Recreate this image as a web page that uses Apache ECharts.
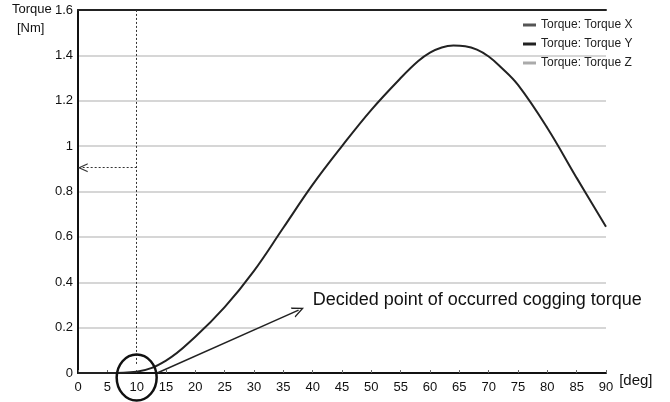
<!DOCTYPE html>
<html>
<head>
<meta charset="utf-8">
<script src="https://cdn.jsdelivr.net/npm/echarts@6/dist/echarts.min.js"></script>
<style>
  html, body { margin: 0; padding: 0; background: #fff; }
  #chart { width: 670px; height: 402px; }
</style>
</head>
<body>
<div id="chart"></div>
<script>
// angle (deg) and torque (Nm)
var angles = [0, 5, 10, 15, 20, 25, 30, 35, 40, 45, 50, 55, 58, 60, 62, 64, 66, 68, 70, 72, 75, 80, 85, 90];
var torqueX = [0, 0, 0.006, 0.055, 0.16, 0.29, 0.45, 0.64, 0.83, 1.0, 1.16, 1.3, 1.375, 1.412, 1.435, 1.443, 1.44, 1.425, 1.395, 1.35, 1.27, 1.08, 0.86, 0.645];
var seriesNames = ['Torque: Torque X', 'Torque: Torque Y', 'Torque: Torque Z'];
var legendColors = ['#555', '#222', '#aaa'];
var yTicks = { min: 0, max: 1.6, step: 0.2 };
var xTicks = { min: 0, max: 90, step: 5 };

// annotation anchors (data coords)
var cogPoint = [10, -0.02];
var arrowFrom = [13.5, 0];
var arrowTo = [37.6, 0.277];
var readFrom = [10, 0.905];
var readTo = [0.8, 0.905];
var noteAt = [40, 0.32];
var noteText = 'Decided point of occurred cogging torque';

var chevron = 'path://M5,0 L10,11 L8.6,11 L5,3 L1.4,11 L0,11 Z';
var font = '"Liberation Sans", Arial, sans-serif';

var chart = echarts.init(document.getElementById('chart'));

var points = angles.map(function (a, i) { return [a, torqueX[i]]; });

chart.setOption({
  animation: false,
  textStyle: { fontFamily: font },
  grid: { left: 78, right: 64, top: 10, bottom: 29 },
  legend: {
    orient: 'vertical',
    left: 518,
    top: 13,
    itemWidth: 13,
    itemHeight: 3,
    itemGap: 5,
    icon: 'rect',
    textStyle: { fontSize: 12, color: '#222', lineHeight: 14, fontFamily: font },
    data: seriesNames.map(function (n, i) {
      return { name: n, itemStyle: { color: legendColors[i] } };
    })
  },
  xAxis: [{
    type: 'value',
    min: xTicks.min, max: xTicks.max, interval: xTicks.step,
    name: '[deg]',
    nameLocation: 'end',
    nameGap: 10,
    nameTextStyle: { fontSize: 15, color: '#111', verticalAlign: 'top' },
    axisLine: { lineStyle: { color: '#111', width: 2 } },
    axisTick: { show: true, inside: true, length: 3, lineStyle: { color: '#666' } },
    axisLabel: { fontSize: 13, color: '#111', margin: 8 },
    splitLine: { show: false }
  }, {
    type: 'value', position: 'top',
    min: xTicks.min, max: xTicks.max,
    axisLine: { show: true, lineStyle: { color: '#222', width: 2 } },
    axisTick: { show: false }, axisLabel: { show: false }, splitLine: { show: false }
  }],
  yAxis: {
    type: 'value',
    min: yTicks.min, max: yTicks.max, interval: yTicks.step,
    axisLine: { show: true, lineStyle: { color: '#111', width: 2 } },
    axisTick: { show: false },
    axisLabel: { fontSize: 13, color: '#111', margin: 5 },
    splitLine: { lineStyle: { color: '#c8c8c8', width: 1.5 } }
  },
  series: [{
    name: seriesNames[0],
    type: 'line',
    data: points,
    smooth: 0.4,
    showSymbol: false,
    lineStyle: { color: '#222', width: 2 },
    itemStyle: { color: legendColors[0] },
    markLine: {
      silent: true,
      label: { show: false },
      data: [
        [{ coord: [10, 0.04], symbol: 'none' }, { coord: [10, 1.6], symbol: 'none' }],
        [{ coord: readFrom, symbol: 'none' }, { coord: readTo, symbol: chevron, symbolSize: [9, 10] }],
        [{ coord: arrowFrom, symbol: 'none', lineStyle: { type: 'solid', width: 1.5, color: '#222' } },
         { coord: arrowTo, symbol: chevron, symbolSize: [11, 12] }]
      ],
      lineStyle: { color: '#333', width: 1, type: [2, 2] }
    }
  }, {
    name: seriesNames[1], type: 'line', data: [], itemStyle: { color: legendColors[1] }
  }, {
    name: seriesNames[2], type: 'line', data: [], itemStyle: { color: legendColors[2] }
  }]
});

var c = chart.convertToPixel({ gridIndex: 0 }, cogPoint);
var t = chart.convertToPixel({ gridIndex: 0 }, noteAt);

chart.setOption({
  graphic: [
    { type: 'text', left: 12, top: 3, style: { text: 'Torque', font: '13px ' + font, fill: '#111' } },
    { type: 'text', left: 17, top: 22, style: { text: '[Nm]', font: '13px ' + font, fill: '#111' } },
    {
      type: 'ellipse', z: 100,
      shape: { cx: c[0], cy: c[1], rx: 20, ry: 23 },
      style: { fill: 'none', stroke: '#111', lineWidth: 2.5 }
    },
    {
      type: 'text', x: t[0], y: t[1], z: 100,
      style: { text: noteText, font: '18px ' + font, fill: '#111', verticalAlign: 'middle' }
    }
  ]
});
</script>
</body>
</html>
